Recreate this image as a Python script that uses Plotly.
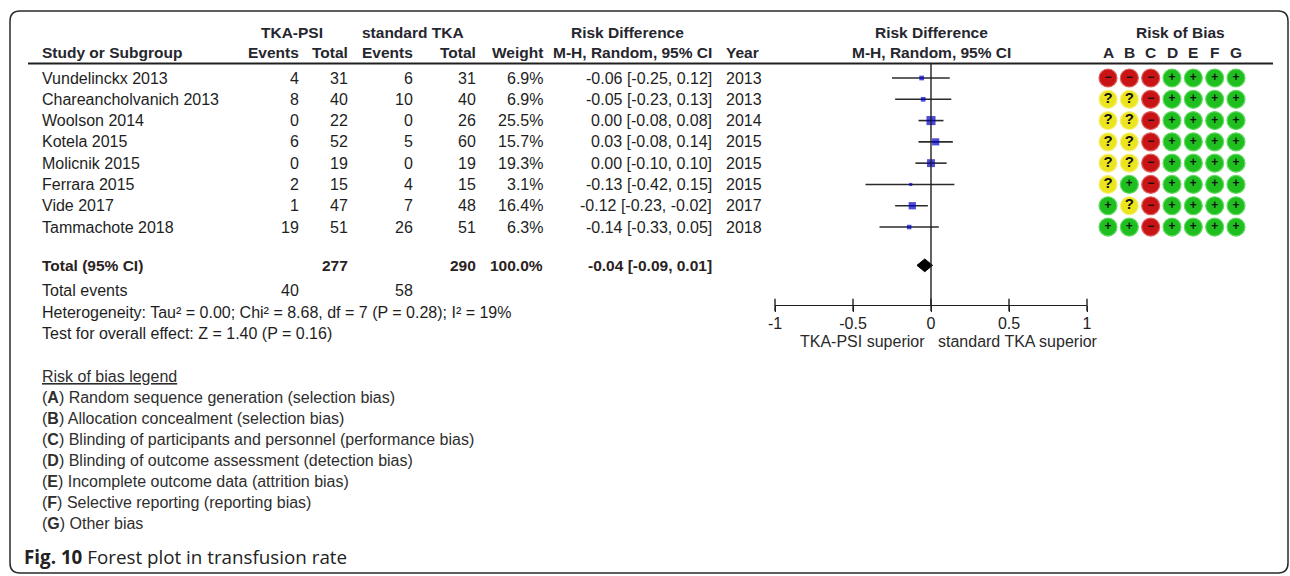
import plotly.graph_objects as go

W, H = 1290, 576

# ---- study data -------------------------------------------------------------
studies = ["Vundelinckx 2013", "Chareancholvanich 2013", "Woolson 2014", "Kotela 2015",
           "Molicnik 2015", "Ferrara 2015", "Vide 2017", "Tammachote 2018"]
psi_events = [4, 8, 0, 6, 0, 2, 1, 19]
psi_total = [31, 40, 22, 52, 19, 15, 47, 51]
std_events = [6, 10, 0, 5, 0, 4, 7, 26]
std_total = [31, 40, 26, 60, 19, 15, 48, 51]
weights = [6.9, 6.9, 25.5, 15.7, 19.3, 3.1, 16.4, 6.3]
rd = [-0.06, -0.05, 0.00, 0.03, 0.00, -0.13, -0.12, -0.14]
ci_low = [-0.25, -0.23, -0.08, -0.08, -0.10, -0.42, -0.23, -0.33]
ci_high = [0.12, 0.13, 0.08, 0.14, 0.10, 0.15, -0.02, 0.05]
years = [2013, 2013, 2014, 2015, 2015, 2015, 2017, 2018]

# pooled result
pooled_rd, pooled_low, pooled_high = -0.04, -0.09, 0.01
pooled_weight = "100.0%"
total_psi_n, total_std_n = 277, 290
total_psi_ev, total_std_ev = 40, 58
heterogeneity = "Heterogeneity: Tau² = 0.00; Chi² = 8.68, df = 7 (P = 0.28); I² = 19%"
overall_test = "Test for overall effect: Z = 1.40 (P = 0.16)"

# risk of bias judgements (+ low, ? unclear, - high)
bias_domains = ["A", "B", "C", "D", "E", "F", "G"]
bias = [
    ["-", "-", "-", "+", "+", "+", "+"],
    ["?", "?", "-", "+", "+", "+", "+"],
    ["?", "?", "-", "+", "+", "+", "+"],
    ["?", "?", "-", "+", "+", "+", "+"],
    ["?", "?", "-", "+", "+", "+", "+"],
    ["?", "+", "-", "+", "+", "+", "+"],
    ["+", "?", "-", "+", "+", "+", "+"],
    ["+", "+", "-", "+", "+", "+", "+"],
]
legend_items = [
    ("A", "Random sequence generation (selection bias)"),
    ("B", "Allocation concealment (selection bias)"),
    ("C", "Blinding of participants and personnel (performance bias)"),
    ("D", "Blinding of outcome assessment (detection bias)"),
    ("E", "Incomplete outcome data (attrition bias)"),
    ("F", "Selective reporting (reporting bias)"),
    ("G", "Other bias"),
]
axis_ticks = [-1, -0.5, 0, 0.5, 1]
tick_labels = ["-1", "-0.5", "0", "0.5", "1"]

# ---- layout constants -----------------------------------------------------
ARIAL = "Liberation Sans, Arial, sans-serif"
TXT = "#1e1e1e"
ROW0, PITCH = 78, 21.29          # pixel centre of first row, row spacing
POOLED_ROW = 8.8
EVENTS_ROW, HET_ROW, TEST_ROW = 10, 11, 12
AXIS_PX = 305                    # pixel height of the forest axis line
HSIZE = 15.5                     # bold header size

def px_x(px):
    return px / W

def px_y(py):
    return 1 - py / H

annotations = []

def ann(text, x, y, anchor="left", yref="paper", size=16, color=TXT, family=ARIAL):
    annotations.append(dict(
        text=text, x=px_x(x), xref="paper",
        y=px_y(y) if yref == "paper" else y, yref=yref,
        xanchor=anchor, yanchor="middle", showarrow=False,
        borderpad=0, borderwidth=0,
        font=dict(family=family, size=size, color=color),
    ))

# ---- header ------------------------------------------------------------------
HDR = "#26262e"
ann("<b>TKA-PSI</b>", 292, 33, "center", size=HSIZE, color=HDR)
ann("<b>standard TKA</b>", 413, 33, "center", size=HSIZE, color=HDR)
ann("<b>Risk Difference</b>", 627, 33, "center", size=HSIZE, color=HDR)
ann("<b>Risk Difference</b>", 931, 33, "center", size=HSIZE, color=HDR)
ann("<b>Risk of Bias</b>", 1180, 33, "center", size=HSIZE, color=HDR)
ann("<b>Study or Subgroup</b>", 42, 53, "left", size=HSIZE, color=HDR)
ann("<b>Events</b>", 299, 53, "right", size=HSIZE, color=HDR)
ann("<b>Total</b>", 348, 53, "right", size=HSIZE, color=HDR)
ann("<b>Events</b>", 413, 53, "right", size=HSIZE, color=HDR)
ann("<b>Total</b>", 476, 53, "right", size=HSIZE, color=HDR)
ann("<b>Weight</b>", 543, 53, "right", size=HSIZE, color=HDR)
ann("<b>M-H, Random, 95% CI</b>", 712, 53, "right", size=HSIZE, color=HDR)
ann("<b>Year</b>", 726, 53, "left", size=HSIZE, color=HDR)
ann("<b>M-H, Random, 95% CI</b>", 931, 53, "center", size=HSIZE, color=HDR)

# ---- study rows ------------------------------------------------------------
for i in range(len(studies)):
    ann(studies[i], 42, i, "left", yref="y")
    ann(str(psi_events[i]), 299, i, "right", yref="y")
    ann(str(psi_total[i]), 348, i, "right", yref="y")
    ann(str(std_events[i]), 413, i, "right", yref="y")
    ann(str(std_total[i]), 476, i, "right", yref="y")
    ann(f"{weights[i]:.1f}%", 543, i, "right", yref="y")
    ann(f"{rd[i]:.2f} [{ci_low[i]:.2f}, {ci_high[i]:.2f}]", 712, i, "right", yref="y")
    ann(str(years[i]), 726, i, "left", yref="y")

# ---- totals -----------------------------------------------------------------
TOT = "#2a221e"
ann("<b>Total (95% CI)</b>", 42, POOLED_ROW, "left", yref="y", size=HSIZE, color=TOT)
ann(f"<b>{total_psi_n}</b>", 348, POOLED_ROW, "right", yref="y", size=HSIZE, color=TOT)
ann(f"<b>{total_std_n}</b>", 476, POOLED_ROW, "right", yref="y", size=HSIZE, color=TOT)
ann(f"<b>{pooled_weight}</b>", 543, POOLED_ROW, "right", yref="y", size=HSIZE, color=TOT)
ann(f"<b>{pooled_rd:.2f} [{pooled_low:.2f}, {pooled_high:.2f}]</b>", 712, POOLED_ROW,
    "right", yref="y", size=HSIZE, color=TOT)
ann("Total events", 42, EVENTS_ROW, "left", yref="y")
ann(str(total_psi_ev), 299, EVENTS_ROW, "right", yref="y")
ann(str(total_std_ev), 413, EVENTS_ROW, "right", yref="y")
ann(heterogeneity, 42, HET_ROW, "left", yref="y")
ann(overall_test, 42, TEST_ROW, "left", yref="y")

# ---- risk of bias legend ---------------------------------------------------------
LEG = "#2e2e2e"
ann("<u>Risk of bias legend</u>", 42, 376, "left", color=LEG)
for k, (letter, desc) in enumerate(legend_items):
    ann(f"(<b>{letter}</b>) {desc}", 42, 397 + 21 * k, "left", color=LEG)

# caption
ann("<b>Fig. 10</b> Forest plot in transfusion rate", 24, 557, "left",
    size=18.8, color="#222222", family="Open Sans, sans-serif")

# ---- forest axis labels ---------------------------------------------------------
ann("TKA-PSI superior", 862, 341, "center", color="#2a2a2a")
ann("standard TKA superior", 1018, 341, "center", color="#2a2a2a")

# risk of bias column letters
for j, d in enumerate(bias_domains):
    annotations.append(dict(text=f"<b>{d}</b>", x=j, xref="x2", y=px_y(53), yref="paper",
                            xanchor="center", yanchor="middle", showarrow=False,
                            font=dict(family=ARIAL, size=HSIZE, color=HDR)))

fig = go.Figure()

# confidence interval lines
ci_x, ci_y = [], []
for i in range(len(studies)):
    ci_x += [ci_low[i], ci_high[i], None]
    ci_y += [i, i, None]
fig.add_trace(go.Scatter(x=ci_x, y=ci_y, mode="lines", xaxis="x", yaxis="y",
                         line=dict(color="#2b2b2b", width=1.6), hoverinfo="skip",
                         cliponaxis=False, showlegend=False))

# study estimates, square area scaled by weight
fig.add_trace(go.Scatter(
    x=rd, y=list(range(len(studies))), mode="markers", xaxis="x", yaxis="y",
    marker=dict(symbol="square", color="#0000c8",
                size=[1.8 * w ** 0.5 for w in weights], line=dict(width=0)),
    cliponaxis=False, showlegend=False, hoverinfo="skip"))

# pooled diamond
half = 0.3
fig.add_trace(go.Scatter(
    x=[pooled_low, pooled_rd, pooled_high, pooled_rd, pooled_low],
    y=[POOLED_ROW, POOLED_ROW - half, POOLED_ROW, POOLED_ROW + half, POOLED_ROW],
    mode="lines", fill="toself", fillcolor="#000000", xaxis="x", yaxis="y",
    line=dict(color="#000000", width=1), cliponaxis=False,
    showlegend=False, hoverinfo="skip"))

# tick marks crossing the forest axis line
axis_row = (AXIS_PX - ROW0) / PITCH
fig.add_trace(go.Scatter(
    x=axis_ticks, y=[axis_row] * len(axis_ticks), mode="markers", xaxis="x", yaxis="y",
    marker=dict(symbol="line-ns", size=9, line=dict(color="#202020", width=1.4)),
    cliponaxis=False, showlegend=False, hoverinfo="skip"))

# risk of bias grid
styles = {
    "+": dict(fill="#1fbf1f", rim="#63dc63", glyph="<b>+</b>", size=12),
    "-": dict(fill="#c81414", rim="#e06060", glyph="<b>−</b>", size=12),
    "?": dict(fill="#ece41e", rim="#f6f07a", glyph="<b>?</b>", size=15),
}
for key, st in styles.items():
    xs, ys = [], []
    for i, row in enumerate(bias):
        for j, v in enumerate(row):
            if v == key:
                xs.append(j)
                ys.append(i)
    fig.add_trace(go.Scatter(
        x=xs, y=ys, mode="markers+text", xaxis="x2", yaxis="y",
        marker=dict(symbol="circle", size=18, color=st["fill"],
                    line=dict(color=st["rim"], width=1.2)),
        text=[st["glyph"]] * len(xs), textposition="middle center",
        textfont=dict(family=ARIAL, size=st["size"], color="#111111"),
        cliponaxis=False, showlegend=False, hoverinfo="skip"))

# ---- lines and frame ---------------------------------------------------------------
shapes = [
    # header rule
    dict(type="line", xref="paper", yref="paper", x0=px_x(28), x1=px_x(1273),
         y0=px_y(63.5), y1=px_y(63.5), line=dict(color="#202020", width=2)),
    # line of no effect
    dict(type="line", xref="x", yref="paper", x0=0, x1=0,
         y0=px_y(64), y1=px_y(AXIS_PX), line=dict(color="#202020", width=1.4)),
]

# rounded outer frame
L, T, R, B, r = 10, 11, 1288, 573, 10
def P(x, y):
    return f"{px_x(x):.6f},{px_y(y):.6f}"
frame = (f"M {P(L, B - r)} L {P(L, T + r)} Q {P(L, T)} {P(L + r, T)} "
         f"L {P(R - r, T)} Q {P(R, T)} {P(R, T + r)} L {P(R, B - r)} "
         f"Q {P(R, B)} {P(R - r, B)} L {P(L + r, B)} Q {P(L, B)} {P(L, B - r)}")
shapes.append(dict(type="path", xref="paper", yref="paper", path=frame,
                   line=dict(color="#2a2a2a", width=1.5)))

fig.update_layout(
    width=W, height=H, margin=dict(l=0, r=0, t=0, b=0, pad=0, autoexpand=False),
    paper_bgcolor="white", plot_bgcolor="rgba(0,0,0,0)",
    showlegend=False,
    xaxis=dict(domain=[px_x(775), px_x(1087)], range=[-1, 1], anchor="free",
               position=px_y(AXIS_PX), side="bottom", automargin=False,
               tickvals=axis_ticks, ticktext=tick_labels,
               showline=True, linecolor="#202020", linewidth=1.4,
               ticks="outside", ticklen=6, tickwidth=1.4, tickcolor="#202020",
               ticklabelstandoff=-2,
               tickfont=dict(family=ARIAL, size=16, color="#222222"),
               showgrid=False, zeroline=False, fixedrange=True),
    xaxis2=dict(domain=[px_x(1108), px_x(1236)], range=[0, 6], anchor="y",
                visible=False, automargin=False, fixedrange=True),
    yaxis=dict(domain=[0, 1], range=[(H - ROW0) / PITCH, -ROW0 / PITCH],
               visible=False, automargin=False, fixedrange=True),
    annotations=annotations, shapes=shapes,
    font=dict(family=ARIAL, color=TXT),
)

fig.write_html("out.html")
